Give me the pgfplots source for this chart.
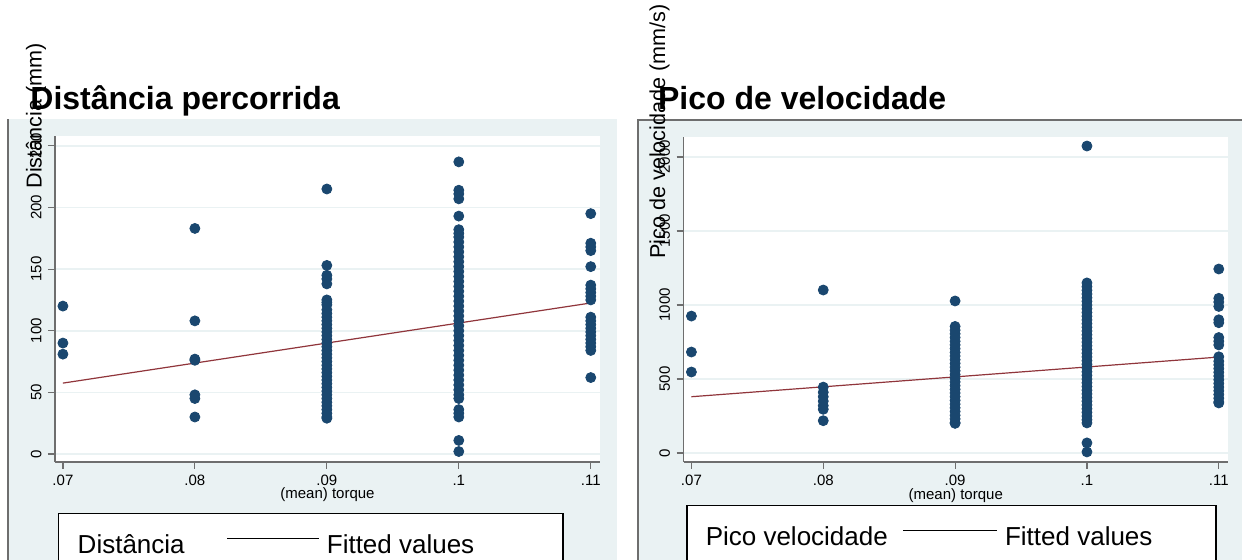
\documentclass[border=0pt]{standalone}
\usepackage{pgfplots}
\usepackage{pgfplotstable}
\pgfplotsset{compat=1.18}
\usepackage{fontspec}
\setmainfont{Liberation Sans}
\definecolor{stnavy}{RGB}{26,71,111}
\definecolor{stmaroon}{RGB}{144,53,59}
\definecolor{stbg}{RGB}{234,242,243}
\definecolor{staxis}{RGB}{110,110,110}

\pgfplotstableread{
x y
0.07 120
0.07 90
0.07 81
0.08 183
0.08 108
0.08 77
0.08 76
0.08 48
0.08 45
0.08 30
0.09 215
0.09 153
0.09 145
0.09 142
0.09 138
0.09 125
0.09 123
0.09 121
0.09 117
0.09 114
0.09 111
0.09 108
0.09 105
0.09 102
0.09 99
0.09 96
0.09 93
0.09 90
0.09 87
0.09 84
0.09 81
0.09 78
0.09 75
0.09 72
0.09 69
0.09 66
0.09 63
0.09 60
0.09 57
0.09 54
0.09 51
0.09 48
0.09 45
0.09 42
0.09 39
0.09 36
0.09 33
0.09 30
0.09 29
0.1 237
0.1 214
0.1 211
0.1 207
0.1 193
0.1 182
0.1 179
0.1 176
0.1 172
0.1 168
0.1 164
0.1 160
0.1 156
0.1 152
0.1 148
0.1 144
0.1 140
0.1 136
0.1 132
0.1 128
0.1 124
0.1 120
0.1 116
0.1 112
0.1 108
0.1 104
0.1 100
0.1 96
0.1 92
0.1 88
0.1 84
0.1 80
0.1 76
0.1 72
0.1 68
0.1 64
0.1 60
0.1 56
0.1 52
0.1 48
0.1 45
0.1 36
0.1 33
0.1 30
0.1 11
0.1 2
0.11 195
0.11 171
0.11 168
0.11 165
0.11 152
0.11 137
0.11 134
0.11 131
0.11 128
0.11 125
0.11 111
0.11 108
0.11 105
0.11 102
0.11 99
0.11 96
0.11 93
0.11 90
0.11 87
0.11 84
0.11 62
}\distdata

\pgfplotstableread{
x y
0.07 925
0.07 682
0.07 547
0.08 1101
0.08 445
0.08 410
0.08 380
0.08 350
0.08 320
0.08 295
0.08 218
0.09 1027
0.09 855
0.09 830
0.09 805
0.09 780
0.09 755
0.09 730
0.09 705
0.09 680
0.09 655
0.09 630
0.09 605
0.09 580
0.09 555
0.09 530
0.09 505
0.09 480
0.09 455
0.09 430
0.09 405
0.09 380
0.09 355
0.09 330
0.09 305
0.09 280
0.09 255
0.09 230
0.09 205
0.09 200
0.1 2074
0.1 1149
0.1 1124
0.1 1099
0.1 1074
0.1 1049
0.1 1024
0.1 999
0.1 974
0.1 949
0.1 924
0.1 899
0.1 874
0.1 849
0.1 824
0.1 799
0.1 774
0.1 749
0.1 724
0.1 699
0.1 674
0.1 649
0.1 624
0.1 599
0.1 574
0.1 549
0.1 524
0.1 499
0.1 474
0.1 449
0.1 424
0.1 399
0.1 374
0.1 349
0.1 324
0.1 299
0.1 274
0.1 249
0.1 224
0.1 203
0.1 68
0.1 7
0.11 1243
0.11 1045
0.11 1020
0.11 990
0.11 900
0.11 880
0.11 780
0.11 755
0.11 730
0.11 650
0.11 620
0.11 595
0.11 570
0.11 545
0.11 520
0.11 495
0.11 470
0.11 445
0.11 420
0.11 395
0.11 370
0.11 345
0.11 338
}\picodata

\pgfplotsset{
  stata/.style={
    scale only axis,
    axis x line*=bottom, axis y line*=left,
    axis line style={staxis, line width=0.8pt},
    tick align=outside, major tick length=3.5pt,
    tick style={staxis, line width=0.6pt},
    xmin=0.0694, xmax=0.1107,
    xtick={0.07,0.08,0.09,0.1,0.11},
    xticklabels={.07,.08,.09,.1,.11},
    scaled x ticks=false, scaled y ticks=false,
    ymajorgrids, grid style={stbg, line width=0.8pt},
    axis background/.style={fill=white},
    /pgf/number format/assume math mode=true,
    /pgf/number format/1000 sep={},
    ticklabel style={font=\fontsize{7.5}{9}\selectfont},
    yticklabel style={rotate=90, anchor=south, inner sep=0pt},
    yticklabel shift=3pt,
    xticklabel style={anchor=north, inner sep=0pt},
    xticklabel shift=3pt,
    xlabel={(mean) torque},
    xlabel style={font=\fontsize{7.5}{9}\selectfont, anchor=base, inner sep=0pt},
    legend columns=2,
    legend cell align=left,
    legend style={draw=black, line width=0.75pt, fill=white, anchor=north west,
      font=\fontsize{13}{15}\selectfont, inner xsep=6pt, inner ysep=4pt,
      cells={text height=14pt, text depth=0pt, inner sep=0pt},
      /tikz/every odd column/.append style={column sep=1.5pt}},
  },
  mk/.style={only marks, mark=*, mark size=2.5pt, color=stnavy,
    mark options={draw=stnavy, fill=stnavy}, forget plot},
  fit/.style={stmaroon, line width=0.6pt, forget plot},
}

\begin{document}
\begin{tikzpicture}
\useasboundingbox (0pt,0pt) rectangle (621pt,280pt);
\clip (0pt,0pt) rectangle (621pt,280pt);
\fill[stbg] (4pt,0pt) rectangle (308.5pt,220.5pt);
\draw[staxis, line width=0.6pt] (4pt,0pt) -- (4pt,220.5pt);
\fill[stbg] (319pt,0pt) rectangle (621pt,220pt);
\draw[staxis, line width=0.6pt] (319pt,0pt) -- (319pt,220pt) -- (621pt,220pt);

\begin{axis}[stata, at={(27.5pt,49pt)}, anchor=south west,
  width=272.5pt, height=163pt,
  ymin=-6.5, ymax=258, ytick={0,50,100,150,200,250},
  xlabel style={at={(axis description cs:0.5,-0.112)}},
  legend style={at={(0.0055,-0.1564)},
    /tikz/every even column/.append style={column sep=19pt}},
]
\addplot[mk] table[x=x,y=y] {\distdata};
\addplot[fit] coordinates {(0.07,57.5) (0.11,122.5)};
\addlegendimage{legend image code/.code={}}
\addlegendentry{Distância}
\addlegendimage{legend image code/.code={\draw[black, line width=0.6pt] (0pt,1.5pt) -- (46pt,1.5pt);}}
\addlegendentry{\makebox[110pt][l]{Fitted values}}
\end{axis}

\begin{axis}[stata, at={(341.75pt,49pt)}, anchor=south west,
  width=272.25pt, height=162.5pt,
  ymin=-61, ymax=2135, ytick={0,500,1000,1500,2000},
  xlabel style={at={(axis description cs:0.5,-0.114)}},
  legend style={at={(0.0046,-0.1323)},
    /tikz/every even column/.append style={column sep=5.5pt}},
]
\addplot[mk] table[x=x,y=y] {\picodata};
\addplot[fit] coordinates {(0.07,380) (0.11,648)};
\addlegendimage{legend image code/.code={}}
\addlegendentry{Pico velocidade}
\addlegendimage{legend image code/.code={\draw[black, line width=0.6pt] (0pt,1.5pt) -- (47pt,1.5pt);}}
\addlegendentry{\makebox[97.5pt][l]{Fitted values}}
\end{axis}

\node[anchor=base west, inner sep=0pt, font=\fontsize{16}{19}\selectfont\bfseries] at (15pt,225pt) {Distância percorrida};
\node[anchor=base west, inner sep=0pt, font=\fontsize{16}{19}\selectfont\bfseries] at (328.85pt,225pt) {Pico de velocidade};
\node[rotate=90, anchor=base, inner sep=0pt, font=\fontsize{10.8}{13}\selectfont] at (20.85pt,222pt) {Distância (mm)};
\node[rotate=90, anchor=base, inner sep=0pt, font=\fontsize{10.8}{13}\selectfont] at (332.5pt,214.25pt) {Pico de velocidade (mm/s)};
\end{tikzpicture}
\end{document}
